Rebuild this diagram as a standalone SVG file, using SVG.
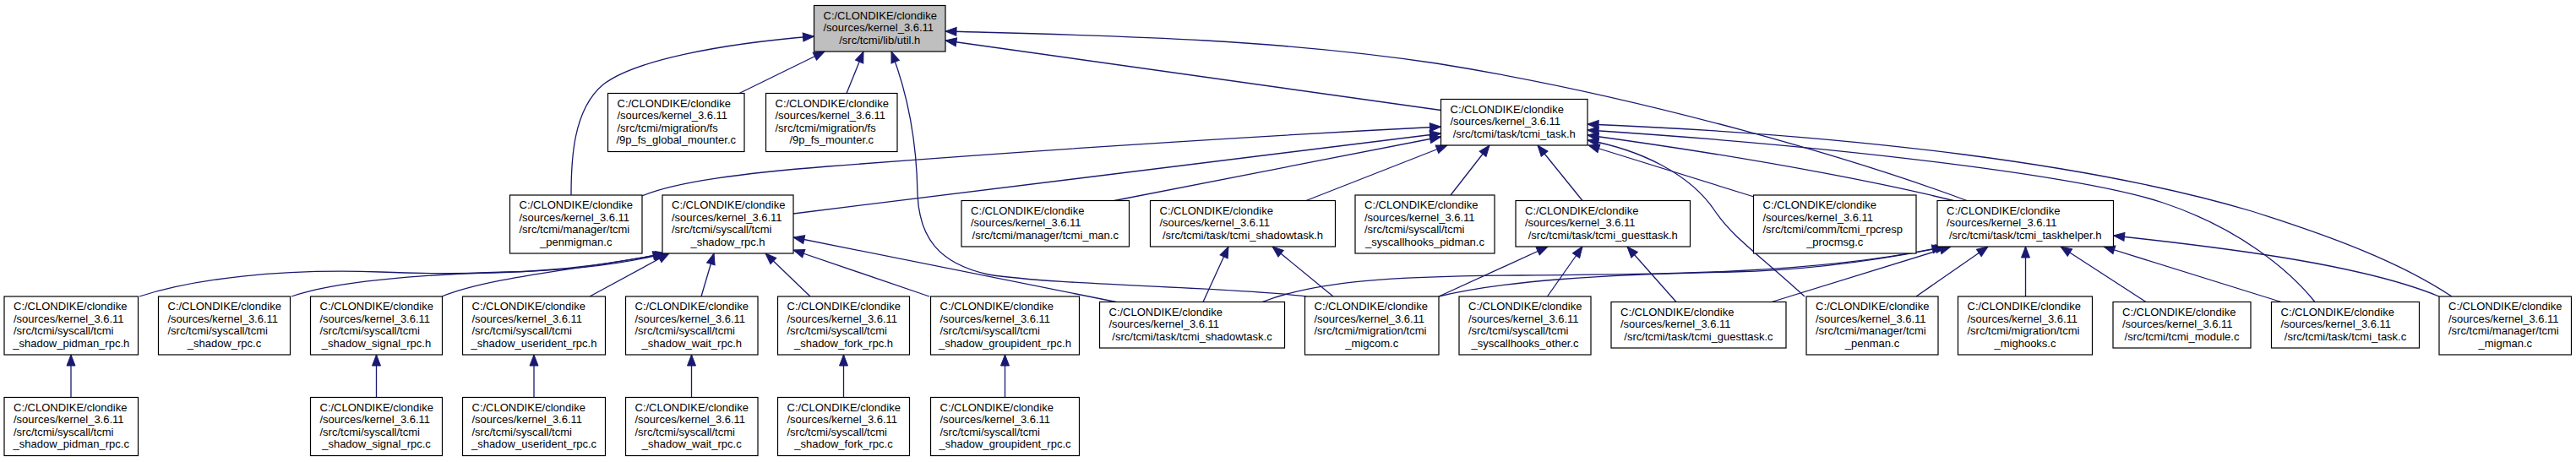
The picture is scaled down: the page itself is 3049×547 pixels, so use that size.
<svg xmlns="http://www.w3.org/2000/svg" width="3049" height="547" viewBox="0 0 3049 547">
<style>
.n rect{fill:#fff;stroke:#000;stroke-width:1.2}
.n.root rect{fill:#bfbfbf}
.n text{font-family:"Liberation Sans",Arial,Helvetica,sans-serif;font-size:13px;fill:#000}
.n text.c{text-anchor:middle}
#edges path{fill:none;stroke:#191970;stroke-width:1.3;marker-end:url(#ah)}
</style>
<defs>
<marker id="ah" markerUnits="userSpaceOnUse" markerWidth="14" markerHeight="11" refX="13" refY="5" orient="auto" overflow="visible">
<path d="M0,0 L13,5 L0,10 z" fill="#191970" stroke="#191970" stroke-width="1"/>
</marker>
</defs>
<rect width="3049" height="547" fill="#fff"/>
<g id="edges">
<path d="M676,231 C676,190 678,130 714,100 C750,72 850,52 963.5,43"/>
<path d="M875,110.5 L976,61"/>
<path d="M1002,110.5 L1022,61"/>
<path d="M1546,351 C1470,340 1250,338 1170,325 C1110,312 1088,280 1086,230 C1085,160 1072,105 1055,61"/>
<path d="M1705.5,130.5 L1119,48"/>
<path d="M2328,237.5 C2200,190 1950,115 1700,75 C1500,45 1300,42 1119,37"/>
<path d="M760,232 C800,215 880,205 980,197 C1200,180 1450,163 1705.5,150"/>
<path d="M939,253 L1705.5,158"/>
<path d="M1319,237.5 L1705.5,162"/>
<path d="M1546,237.5 L1713,172"/>
<path d="M1717,231 L1763,172"/>
<path d="M1873,237.5 L1820,172"/>
<path d="M2076,233 L1880,172"/>
<path d="M2136,351 C2080,300 2050,280 2030,250 C2000,205 1940,177 1879,166"/>
<path d="M2312,237.5 C2250,222 2100,190 1879,160"/>
<path d="M2740,357.5 C2710,320 2650,270 2560,240 C2470,210 2200,175 1879,154"/>
<path d="M2902,351 C2840,310 2760,280 2665,250 C2480,195 2200,160 1879,147"/>
<path d="M165,351 C230,330 330,318 450,322 C600,328 700,318 786,300"/>
<path d="M345,351 C400,332 500,325 600,322 C680,320 740,312 787,300"/>
<path d="M523,351 C580,328 680,320 789,300"/>
<path d="M698,351 L792,300"/>
<path d="M830,351 L845,300"/>
<path d="M959,351 L906,300"/>
<path d="M1100,351 L939,296"/>
<path d="M1321,357.5 L939,281"/>
<path d="M1424,357.5 L1454,292"/>
<path d="M1578,351 L1506,292"/>
<path d="M1703,351 L1832,292"/>
<path d="M1831.5,351 L1873,292"/>
<path d="M1984,357.5 L1926,292"/>
<path d="M1494,357.5 C1560,332 1650,327 1800,326 C1950,325 2150,325 2300,292"/>
<path d="M1703,351 C1780,332 1900,325 2050,322 C2150,320 2240,305 2304,292"/>
<path d="M2097,357.5 L2309,292"/>
<path d="M2268,351 L2353,292"/>
<path d="M2397.5,351 L2397.5,292"/>
<path d="M2540,357.5 L2439,292"/>
<path d="M2700,357.5 L2490,292"/>
<path d="M2887,351 C2800,315 2650,295 2501.5,279"/>
<path d="M84,470.5 L84,420"/>
<path d="M445.5,470.5 L445.5,420"/>
<path d="M632,470.5 L632,420"/>
<path d="M818.5,470.5 L818.5,420"/>
<path d="M998.5,470.5 L998.5,420"/>
<path d="M1189.5,470.5 L1189.5,420"/>
</g>
<g id="n_util_h" class="n root"><rect x="963.5" y="6.5" width="155.5" height="54.5"/><text x="974.5" y="22.7">C:/CLONDIKE/clondike</text><text x="974.5" y="37.2">/sources/kernel_3.6.11</text><text class="c" x="1041.25" y="51.7">/src/tcmi/lib/util.h</text></g>
<g id="n_9p_fs_global_mounter_c" class="n"><rect x="719.5" y="110.5" width="161.5" height="69"/><text x="730.5" y="126.7">C:/CLONDIKE/clondike</text><text x="730.5" y="141.2">/sources/kernel_3.6.11</text><text x="730.5" y="155.7">/src/tcmi/migration/fs</text><text class="c" x="800.25" y="170.2">/9p_fs_global_mounter.c</text></g>
<g id="n_9p_fs_mounter_c" class="n"><rect x="906.5" y="110.5" width="155.5" height="69"/><text x="917.5" y="126.7">C:/CLONDIKE/clondike</text><text x="917.5" y="141.2">/sources/kernel_3.6.11</text><text x="917.5" y="155.7">/src/tcmi/migration/fs</text><text class="c" x="984.25" y="170.2">/9p_fs_mounter.c</text></g>
<g id="n_tcmi_task_h" class="n"><rect x="1705.5" y="117.5" width="173.5" height="54.5"/><text x="1716.5" y="133.7">C:/CLONDIKE/clondike</text><text x="1716.5" y="148.2">/sources/kernel_3.6.11</text><text class="c" x="1792.25" y="162.7">/src/tcmi/task/tcmi_task.h</text></g>
<g id="n_tcmi_penmigman_c" class="n"><rect x="603.5" y="231" width="156.5" height="69"/><text x="614.5" y="247.2">C:/CLONDIKE/clondike</text><text x="614.5" y="261.7">/sources/kernel_3.6.11</text><text x="614.5" y="276.2">/src/tcmi/manager/tcmi</text><text class="c" x="681.75" y="290.7">_penmigman.c</text></g>
<g id="n_tcmi_shadow_rpc_h" class="n"><rect x="784" y="231" width="155" height="69"/><text x="795" y="247.2">C:/CLONDIKE/clondike</text><text x="795" y="261.7">/sources/kernel_3.6.11</text><text x="795" y="276.2">/src/tcmi/syscall/tcmi</text><text class="c" x="861.5" y="290.7">_shadow_rpc.h</text></g>
<g id="n_tcmi_man_c" class="n"><rect x="1138" y="237.5" width="198.5" height="54.5"/><text x="1149" y="253.7">C:/CLONDIKE/clondike</text><text x="1149" y="268.2">/sources/kernel_3.6.11</text><text class="c" x="1237.25" y="282.7">/src/tcmi/manager/tcmi_man.c</text></g>
<g id="n_tcmi_shadowtask_h" class="n"><rect x="1361.5" y="237.5" width="219" height="54.5"/><text x="1372.5" y="253.7">C:/CLONDIKE/clondike</text><text x="1372.5" y="268.2">/sources/kernel_3.6.11</text><text class="c" x="1471" y="282.7">/src/tcmi/task/tcmi_shadowtask.h</text></g>
<g id="n_tcmi_syscallhooks_pidman_c" class="n"><rect x="1604" y="231" width="165" height="69"/><text x="1615" y="247.2">C:/CLONDIKE/clondike</text><text x="1615" y="261.7">/sources/kernel_3.6.11</text><text x="1615" y="276.2">/src/tcmi/syscall/tcmi</text><text class="c" x="1686.5" y="290.7">_syscallhooks_pidman.c</text></g>
<g id="n_tcmi_guesttask_h" class="n"><rect x="1794" y="237.5" width="206.5" height="54.5"/><text x="1805" y="253.7">C:/CLONDIKE/clondike</text><text x="1805" y="268.2">/sources/kernel_3.6.11</text><text class="c" x="1897.25" y="282.7">/src/tcmi/task/tcmi_guesttask.h</text></g>
<g id="n_tcmi_rpcresp_procmsg_c" class="n"><rect x="2075.5" y="231" width="192.5" height="69"/><text x="2086.5" y="247.2">C:/CLONDIKE/clondike</text><text x="2086.5" y="261.7">/sources/kernel_3.6.11</text><text x="2086.5" y="276.2">/src/tcmi/comm/tcmi_rpcresp</text><text class="c" x="2171.75" y="290.7">_procmsg.c</text></g>
<g id="n_tcmi_taskhelper_h" class="n"><rect x="2293" y="237.5" width="208.5" height="54.5"/><text x="2304" y="253.7">C:/CLONDIKE/clondike</text><text x="2304" y="268.2">/sources/kernel_3.6.11</text><text class="c" x="2397.25" y="282.7">/src/tcmi/task/tcmi_taskhelper.h</text></g>
<g id="n_tcmi_shadow_pidman_rpc_h" class="n"><rect x="5" y="351" width="158.5" height="69"/><text x="16" y="367.2">C:/CLONDIKE/clondike</text><text x="16" y="381.7">/sources/kernel_3.6.11</text><text x="16" y="396.2">/src/tcmi/syscall/tcmi</text><text class="c" x="84.25" y="410.7">_shadow_pidman_rpc.h</text></g>
<g id="n_tcmi_shadow_rpc_c" class="n"><rect x="187.5" y="351" width="156" height="69"/><text x="198.5" y="367.2">C:/CLONDIKE/clondike</text><text x="198.5" y="381.7">/sources/kernel_3.6.11</text><text x="198.5" y="396.2">/src/tcmi/syscall/tcmi</text><text class="c" x="265.5" y="410.7">_shadow_rpc.c</text></g>
<g id="n_tcmi_shadow_signal_rpc_h" class="n"><rect x="367.5" y="351" width="156" height="69"/><text x="378.5" y="367.2">C:/CLONDIKE/clondike</text><text x="378.5" y="381.7">/sources/kernel_3.6.11</text><text x="378.5" y="396.2">/src/tcmi/syscall/tcmi</text><text class="c" x="445.5" y="410.7">_shadow_signal_rpc.h</text></g>
<g id="n_tcmi_shadow_userident_rpc_h" class="n"><rect x="547.5" y="351" width="169" height="69"/><text x="558.5" y="367.2">C:/CLONDIKE/clondike</text><text x="558.5" y="381.7">/sources/kernel_3.6.11</text><text x="558.5" y="396.2">/src/tcmi/syscall/tcmi</text><text class="c" x="632" y="410.7">_shadow_userident_rpc.h</text></g>
<g id="n_tcmi_shadow_wait_rpc_h" class="n"><rect x="740.5" y="351" width="156.5" height="69"/><text x="751.5" y="367.2">C:/CLONDIKE/clondike</text><text x="751.5" y="381.7">/sources/kernel_3.6.11</text><text x="751.5" y="396.2">/src/tcmi/syscall/tcmi</text><text class="c" x="818.75" y="410.7">_shadow_wait_rpc.h</text></g>
<g id="n_tcmi_shadow_fork_rpc_h" class="n"><rect x="920.5" y="351" width="156" height="69"/><text x="931.5" y="367.2">C:/CLONDIKE/clondike</text><text x="931.5" y="381.7">/sources/kernel_3.6.11</text><text x="931.5" y="396.2">/src/tcmi/syscall/tcmi</text><text class="c" x="998.5" y="410.7">_shadow_fork_rpc.h</text></g>
<g id="n_tcmi_shadow_groupident_rpc_h" class="n"><rect x="1101.5" y="351" width="176" height="69"/><text x="1112.5" y="367.2">C:/CLONDIKE/clondike</text><text x="1112.5" y="381.7">/sources/kernel_3.6.11</text><text x="1112.5" y="396.2">/src/tcmi/syscall/tcmi</text><text class="c" x="1189.5" y="410.7">_shadow_groupident_rpc.h</text></g>
<g id="n_tcmi_shadowtask_c" class="n"><rect x="1301.5" y="357.5" width="219" height="54.5"/><text x="1312.5" y="373.7">C:/CLONDIKE/clondike</text><text x="1312.5" y="388.2">/sources/kernel_3.6.11</text><text class="c" x="1411" y="402.7">/src/tcmi/task/tcmi_shadowtask.c</text></g>
<g id="n_tcmi_migcom_c" class="n"><rect x="1544.5" y="351" width="158.5" height="69"/><text x="1555.5" y="367.2">C:/CLONDIKE/clondike</text><text x="1555.5" y="381.7">/sources/kernel_3.6.11</text><text x="1555.5" y="396.2">/src/tcmi/migration/tcmi</text><text class="c" x="1623.75" y="410.7">_migcom.c</text></g>
<g id="n_tcmi_syscallhooks_other_c" class="n"><rect x="1727" y="351" width="156" height="69"/><text x="1738" y="367.2">C:/CLONDIKE/clondike</text><text x="1738" y="381.7">/sources/kernel_3.6.11</text><text x="1738" y="396.2">/src/tcmi/syscall/tcmi</text><text class="c" x="1805" y="410.7">_syscallhooks_other.c</text></g>
<g id="n_tcmi_guesttask_c" class="n"><rect x="1907" y="357.5" width="207" height="54.5"/><text x="1918" y="373.7">C:/CLONDIKE/clondike</text><text x="1918" y="388.2">/sources/kernel_3.6.11</text><text class="c" x="2010.5" y="402.7">/src/tcmi/task/tcmi_guesttask.c</text></g>
<g id="n_tcmi_penman_c" class="n"><rect x="2138" y="351" width="156" height="69"/><text x="2149" y="367.2">C:/CLONDIKE/clondike</text><text x="2149" y="381.7">/sources/kernel_3.6.11</text><text x="2149" y="396.2">/src/tcmi/manager/tcmi</text><text class="c" x="2216" y="410.7">_penman.c</text></g>
<g id="n_tcmi_mighooks_c" class="n"><rect x="2317.5" y="351" width="159" height="69"/><text x="2328.5" y="367.2">C:/CLONDIKE/clondike</text><text x="2328.5" y="381.7">/sources/kernel_3.6.11</text><text x="2328.5" y="396.2">/src/tcmi/migration/tcmi</text><text class="c" x="2397" y="410.7">_mighooks.c</text></g>
<g id="n_tcmi_module_c" class="n"><rect x="2501" y="357.5" width="163" height="54.5"/><text x="2512" y="373.7">C:/CLONDIKE/clondike</text><text x="2512" y="388.2">/sources/kernel_3.6.11</text><text class="c" x="2582.5" y="402.7">/src/tcmi/tcmi_module.c</text></g>
<g id="n_tcmi_task_c" class="n"><rect x="2688.5" y="357.5" width="175" height="54.5"/><text x="2699.5" y="373.7">C:/CLONDIKE/clondike</text><text x="2699.5" y="388.2">/sources/kernel_3.6.11</text><text class="c" x="2776" y="402.7">/src/tcmi/task/tcmi_task.c</text></g>
<g id="n_tcmi_migman_c" class="n"><rect x="2887" y="351" width="156.5" height="69"/><text x="2898" y="367.2">C:/CLONDIKE/clondike</text><text x="2898" y="381.7">/sources/kernel_3.6.11</text><text x="2898" y="396.2">/src/tcmi/manager/tcmi</text><text class="c" x="2965.25" y="410.7">_migman.c</text></g>
<g id="n_tcmi_shadow_pidman_rpc_c" class="n"><rect x="5" y="470.5" width="158.5" height="69"/><text x="16" y="486.7">C:/CLONDIKE/clondike</text><text x="16" y="501.2">/sources/kernel_3.6.11</text><text x="16" y="515.7">/src/tcmi/syscall/tcmi</text><text class="c" x="84.25" y="530.2">_shadow_pidman_rpc.c</text></g>
<g id="n_tcmi_shadow_signal_rpc_c" class="n"><rect x="367.5" y="470.5" width="156" height="69"/><text x="378.5" y="486.7">C:/CLONDIKE/clondike</text><text x="378.5" y="501.2">/sources/kernel_3.6.11</text><text x="378.5" y="515.7">/src/tcmi/syscall/tcmi</text><text class="c" x="445.5" y="530.2">_shadow_signal_rpc.c</text></g>
<g id="n_tcmi_shadow_userident_rpc_c" class="n"><rect x="547.5" y="470.5" width="169" height="69"/><text x="558.5" y="486.7">C:/CLONDIKE/clondike</text><text x="558.5" y="501.2">/sources/kernel_3.6.11</text><text x="558.5" y="515.7">/src/tcmi/syscall/tcmi</text><text class="c" x="632" y="530.2">_shadow_userident_rpc.c</text></g>
<g id="n_tcmi_shadow_wait_rpc_c" class="n"><rect x="740.5" y="470.5" width="156.5" height="69"/><text x="751.5" y="486.7">C:/CLONDIKE/clondike</text><text x="751.5" y="501.2">/sources/kernel_3.6.11</text><text x="751.5" y="515.7">/src/tcmi/syscall/tcmi</text><text class="c" x="818.75" y="530.2">_shadow_wait_rpc.c</text></g>
<g id="n_tcmi_shadow_fork_rpc_c" class="n"><rect x="920.5" y="470.5" width="156" height="69"/><text x="931.5" y="486.7">C:/CLONDIKE/clondike</text><text x="931.5" y="501.2">/sources/kernel_3.6.11</text><text x="931.5" y="515.7">/src/tcmi/syscall/tcmi</text><text class="c" x="998.5" y="530.2">_shadow_fork_rpc.c</text></g>
<g id="n_tcmi_shadow_groupident_rpc_c" class="n"><rect x="1101.5" y="470.5" width="176" height="69"/><text x="1112.5" y="486.7">C:/CLONDIKE/clondike</text><text x="1112.5" y="501.2">/sources/kernel_3.6.11</text><text x="1112.5" y="515.7">/src/tcmi/syscall/tcmi</text><text class="c" x="1189.5" y="530.2">_shadow_groupident_rpc.c</text></g>
</svg>
